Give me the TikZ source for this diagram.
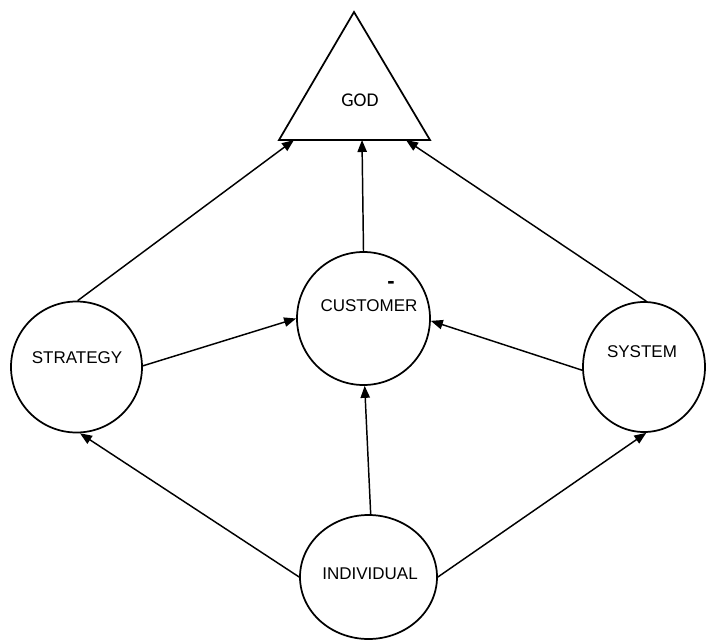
\documentclass[tikz,border=0pt]{standalone}
\usepackage{fontspec}
\setmainfont{Liberation Sans}
\newfontfamily\godfont{Carlito}
\usetikzlibrary{arrows.meta,shapes.geometric}
\tikzset{
  px/.style={x=0.75pt,y=-0.75pt},
  circ/.style={draw,circle,line width=1.3pt,inner sep=0pt,fill=white},
  ell/.style={draw,ellipse,line width=1.3pt,inner sep=0pt,fill=white},
  lbl/.style={font=\fontsize{12.75pt}{14pt}\selectfont,inner sep=0pt},
  arr/.style={line width=1.1pt,-{Triangle[length=9pt,width=7pt]}}
}
\begin{document}
\begin{tikzpicture}[px]
\path[use as bounding box] (0,0) rectangle (706,642);
\clip (0,0) rectangle (706,642);
% GOD triangle
\draw[line width=1.3pt,line join=miter] (354,12) -- (430,140) -- (279,140) -- cycle;
\node[font=\godfont\fontsize{14.6pt}{16pt}\selectfont,inner sep=0pt] (god) at (360,100) {GOD};
\coordinate (gl) at (294,140);
\coordinate (gm) at (362,140);
\coordinate (gr) at (406,140);
% circles
\node[circ,minimum size=98.25pt] (strategy) at (76.5,367) {};
\node[circ,minimum size=99.75pt] (customer) at (363.5,318.5) {};
\node[ell,minimum width=91.5pt,minimum height=97.5pt] (system) at (644,367) {};
\node[ell,minimum width=102.75pt,minimum height=93pt] (individual) at (368.5,577) {};
% labels
\node[lbl] (strategylbl) at (77,358) {STRATEGY};
\node[lbl] (customerlbl) at (369,306) {CUSTOMER};
\node[lbl] (systemlbl) at (642,352) {SYSTEM};
\node[lbl] (individuallbl) at (370,574) {INDIVIDUAL};
\node[font=\bfseries\fontsize{16.5pt}{18pt}\selectfont,inner sep=0pt] (dash) at (391,285) {-};
% connectors
\draw[arr] (strategy.89) -- (gl);
\draw[arr] (customer.90) -- (gm);
\draw[arr] (system.88) -- (gr);
\draw[arr] (strategy.1) -- (customer.180);
\draw[arr] (system.183) -- (customer.-2);
\draw[arr] (individual.88) -- (customer.-89);
\draw[arr] (individual.180) -- (strategy.-87);
\draw[arr] (individual.0) -- (system.-88);
\end{tikzpicture}
\end{document}
